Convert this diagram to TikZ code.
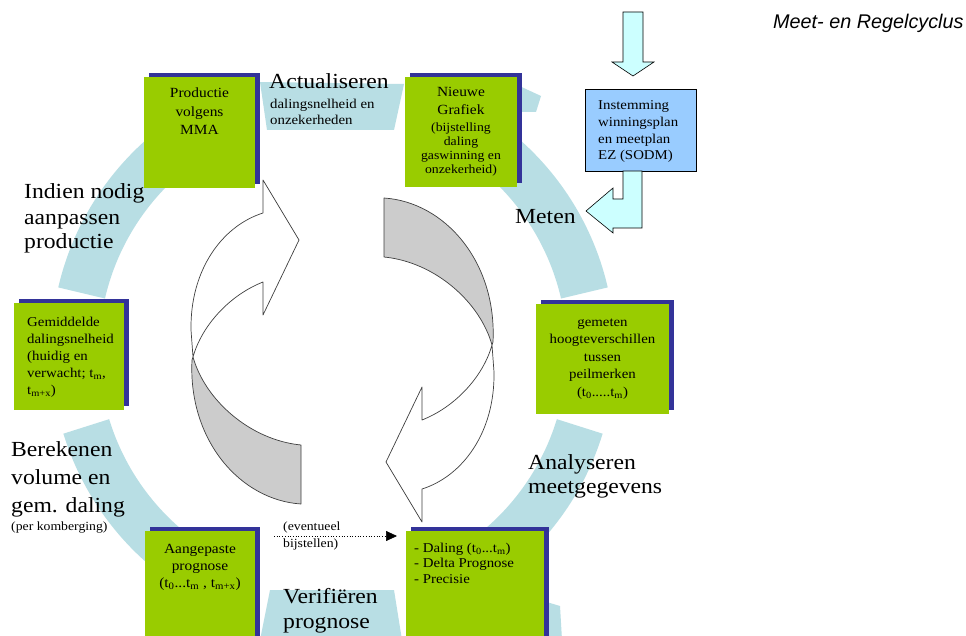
\documentclass[tikz,border=0pt]{standalone}
\usepackage{fontspec}
\setmainfont{Liberation Serif}[FakeStretch=1.1]
\newfontfamily\titlefont{Liberation Sans}
\usetikzlibrary{shadows,arrows.meta}
\definecolor{leaf}{RGB}{153,204,0}
\definecolor{navy}{RGB}{51,51,153}
\definecolor{ringblue}{RGB}{184,222,228}
\definecolor{planblue}{RGB}{153,204,255}
\definecolor{paleblue}{RGB}{204,255,255}
\definecolor{ribbongray}{RGB}{204,204,204}

% one half of the twisted cycle arrow; the other half is this one turned 180 degrees
\newcommand\ribbonarrow{%
  \filldraw[ribbonline, fill=ribbongray]
    (193,357) .. controls (205,400) and (250,440) .. (301,445)
    -- (301,504) .. controls (240,500) and (188,440) .. (192,360) -- cycle;
  \filldraw[ribbonline, fill=white]
    (263,282) -- (263,315) -- (299,240) -- (263,180) -- (263,213)
    .. controls (222,226) and (190,270) .. (191,330) -- (193,357)
    .. controls (202,325) and (230,295) .. (263,282) -- cycle;
}

\begin{document}
\begin{tikzpicture}[x=1pt, y=-1pt,
  greenbox/.style={rectangle, fill=leaf, draw=none, inner sep=0pt, anchor=north west,
    general shadow={fill=navy, shadow xshift=5pt, shadow yshift=4pt}},
  ringpart/.style={draw=ringblue, line width=48pt},
  ribbonline/.style={draw=black!75, line width=0.7pt, line join=round},
  paleshape/.style={fill=paleblue, draw=black, line width=0.6pt, line join=miter},
  bigtxt/.style={font=\fontsize{21.5}{25}\selectfont, align=left, inner sep=0pt},
  boxtxt/.style={font=\fontsize{14}{18.5}\selectfont, align=center, inner sep=0pt},
  smalltxt/.style={font=\fontsize{13.5}{16}\selectfont, align=left, inner sep=0pt},
]
\useasboundingbox (0,0) rectangle (966,636);
\fill[white] (0,0) rectangle (966,636);
\clip (0,0) rectangle (966,636);

% the measuring / control ring, in pieces
\coordinate (ringc) at (333,351);
\fill[ringblue] (260,82) -- (404,84) -- (394,130) -- (267,130) -- cycle;
\fill[ringblue] (515,84) -- (541,96) -- (536,112) -- (515,112) -- cycle;
\fill[ringblue] (270,590) -- (394,590) -- (402,640) -- (260,640) -- cycle;
\fill[ringblue] (540,600) -- (560,606) -- (562,640) -- (540,640) -- cycle;
\draw[ringpart] ([shift={(-62:258)}]ringc) arc[start angle=-62, end angle=-13, radius=258];
\draw[ringpart] ([shift={(17:258)}]ringc) arc[start angle=17, end angle=55, radius=258];
\draw[ringpart] ([shift={(125:258)}]ringc) arc[start angle=125, end angle=163, radius=258];
\draw[ringpart] ([shift={(193:258)}]ringc) arc[start angle=193, end angle=240, radius=258];

% stages of the cycle
\node[greenbox, minimum width=111pt, minimum height=111pt] (prod) at (144,77) {};
\node[greenbox, minimum width=112pt, minimum height=110pt] (grafiek) at (405,77) {};
\node[greenbox, minimum width=133pt, minimum height=110pt] (gemeten) at (536,304) {};
\node[greenbox, minimum width=110pt, minimum height=107pt] (gemid) at (14,303) {};
\node[greenbox, minimum width=110pt, minimum height=115pt] (aangep) at (145,531) {};
\node[greenbox, minimum width=138pt, minimum height=115pt] (daling) at (406,531) {};

% texts inside the stages (anchored on the baseline of their last line)
\node[boxtxt, anchor=base] (prodtxt) at (199.5,135) {Productie\\volgens\\MMA};
\node[boxtxt, font=\fontsize{14}{18}\selectfont, anchor=base] (graftxt) at (461,115) {Nieuwe\\Grafiek};
\node[boxtxt, font=\fontsize{12.5}{14}\selectfont, anchor=base] (grafsub) at (461,174)
  {(bijstelling\\daling\\gaswinning en\\onzekerheid)};
\node[boxtxt, font=\fontsize{13.5}{17.5}\selectfont, anchor=base] (gemettxt) at (602.5,396)
  {gemeten\\hoogteverschillen\\tussen\\peilmerken\\(t\textsubscript{0}.....t\textsubscript{m})};
\node[smalltxt, font=\fontsize{13.5}{17}\selectfont, anchor=base west] (gemidtxt) at (27,394)
  {Gemiddelde\\dalingsnelheid\\(huidig en\\verwacht; t\textsubscript{m},\\t\textsubscript{m+x})};
\node[boxtxt, font=\fontsize{14}{17}\selectfont, anchor=base] (aangeptxt) at (200,587)
  {Aangepaste\\prognose\\(t\textsubscript{0}...t\textsubscript{m} , t\textsubscript{m+x})};
\node[smalltxt, font=\fontsize{13.5}{15.5}\selectfont, anchor=base west] (dalingtxt) at (414,583)
  {- Daling (t\textsubscript{0}...t\textsubscript{m})\\- Delta Prognose\\- Precisie};

% approval by the ministry, feeding into the measurements
\draw[paleshape] (623,12) -- (643,12) -- (643,62) -- (654,62) -- (633,76) -- (612,62) -- (623,62) -- cycle;
\node[rectangle, fill=planblue, draw=black, line width=0.6pt, anchor=north west,
  minimum width=111pt, minimum height=82pt, inner sep=0pt] (plan) at (585,89) {};
\draw[paleshape] (623,171) -- (623,199) -- (613,199) -- (613,188) -- (586,211)
  -- (613,233) -- (613,228) -- (642,228) -- (642,171) -- cycle;
\node[smalltxt, font=\fontsize{13.5}{16.7}\selectfont, anchor=base west] (plantxt) at (598,160)
  {Instemming\\winningsplan\\en meetplan\\EZ (SODM)};

% the two twisted arrows in the middle
\ribbonarrow
\begin{scope}[rotate around={180:(342.5,351)}]
  \ribbonarrow
\end{scope}

% labels of the steps along the ring
\node[bigtxt, anchor=base west] (actual) at (269,89) {Actualiseren};
\node[smalltxt, anchor=base west] (actualsub) at (270,125) {dalingsnelheid en\\onzekerheden};
\node[bigtxt, anchor=base west] (meten) at (515,224) {Meten};
\node[bigtxt, anchor=base west] (aanpassen) at (24,249) {Indien nodig\\aanpassen\\productie};
\node[bigtxt, font=\fontsize{21.5}{28}\selectfont, anchor=base west] (berekenen) at (11,512)
  {Berekenen\\volume en\\gem. daling};
\node[smalltxt, font=\fontsize{12.5}{15}\selectfont, anchor=base west] (komberging) at (11,530) {(per komberging)};
\node[bigtxt, font=\fontsize{21.5}{24}\selectfont, anchor=base west] (analyseren) at (528,493)
  {Analyseren\\meetgegevens};
\node[bigtxt, font=\fontsize{21.5}{25}\selectfont, anchor=base west] (verifieren) at (283,628)
  {Verifiëren\\prognose};

% optional adjustment of the forecast
\coordinate (adjfrom) at (274,536);
\coordinate (adjto) at (397,536);
\draw[dotted, line width=0.7pt, -{Triangle[length=11pt,width=10pt]}] (adjfrom) -- (adjto);
\node[smalltxt, font=\fontsize{12.5}{17}\selectfont, anchor=base west] (adjtxt) at (283,547)
  {(eventueel\\bijstellen)};

\node[font=\titlefont\itshape\fontsize{19.8}{23}\selectfont, anchor=base west, inner sep=0pt]
  (title) at (773,29) {Meet- en Regelcyclus};
\end{tikzpicture}
\end{document}
